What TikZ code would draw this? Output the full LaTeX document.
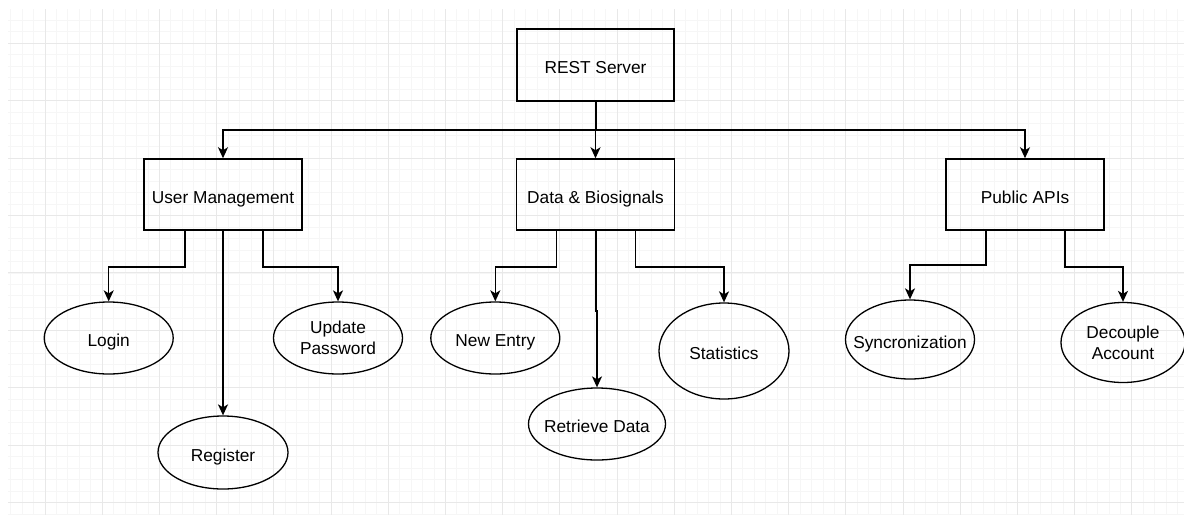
\documentclass[tikz,border=0pt]{standalone}
\usepackage{fontspec}
\setmainfont{Liberation Sans}
\usepackage{tikz}
\usetikzlibrary{shapes.geometric, arrows.meta, positioning}

\definecolor{gridmajor}{HTML}{E8E8E8}
\definecolor{gridminor}{HTML}{F6F6F6}

\begin{document}
\begin{tikzpicture}[
    x=1pt, y=-1pt,
    oneline/.style={text height=17pt, text depth=0pt},
    twoline/.style={text depth=-4pt},
    box/.style={draw, line width=1.5pt, minimum width=158pt, minimum height=71pt, inner sep=0pt, oneline},
    leaf/.style={draw, ellipse, line width=1.3pt, inner sep=-15pt, align=center},
    conn/.style={line width=1.5pt, -{Stealth[length=11pt, width=10pt, inset=3pt]}},
    every node/.style={font=\fontsize{17.3}{21}\selectfont}
]

% Page and grid
\fill[white] (0,0) rectangle (1184,515);
\useasboundingbox (0,0) rectangle (1184,515);
\begin{scope}
\clip (8,9) rectangle (1184,515);
\foreach \i in {0,...,103}
    \draw[gridminor, line width=0.8pt] ({10.68+11.44*\i},9) -- ++(0,506);
\foreach \i in {0,...,44}
    \draw[gridminor, line width=0.8pt] (8,{8.86+11.48*\i}) -- ++(1176,0);
\foreach \i in {0,...,20}
    \draw[gridmajor, line width=1pt] ({45+57.2*\i},9) -- ++(0,506);
\foreach \i in {0,...,8}
    \draw[gridmajor, line width=1pt] (8,{43.3+57.4*\i}) -- ++(1176,0);
\end{scope}

% Server
\node[box, minimum width=157pt, minimum height=72pt] (server) at (595.5,65) {REST Server};

% Modules
\node[box] (usr) at (223,194.5) {User Management};
\node[box] (data) at (595.5,194.5) {Data \& Biosignals};
\node[box] (pub) at (1025,194.5) {Public APIs};

% Functions
\node[leaf, oneline, minimum width=129pt, minimum height=72pt] (login) at (108.7,338) {Login};
\node[leaf, oneline, minimum width=130pt, minimum height=73pt] (register) at (223,452.5) {Register};
\node[leaf, twoline, minimum width=129pt, minimum height=72pt] (update) at (338,338) {Update\\Password};
\node[leaf, oneline, minimum width=129pt, minimum height=72pt] (newentry) at (495.3,338) {New Entry};
\node[leaf, oneline, minimum width=137pt, minimum height=72pt] (retrieve) at (597,424) {Retrieve Data};
\node[leaf, oneline, minimum width=130pt, minimum height=96pt] (stats) at (724,351) {Statistics};
\node[leaf, oneline, minimum width=129pt, minimum height=79pt] (sync) at (910,339.5) {Syncronization};
\node[leaf, twoline, minimum width=124pt, minimum height=80pt] (decouple) at (1123,342.5) {Decouple\\Account};

% Server to modules
\coordinate (bus) at (596,130);
\draw[conn] (server) -- (data);
\draw[conn] (server.south -| bus) -- (bus) -| (usr.north);
\draw[conn] (bus) -| (pub.north);

% User management
\draw[conn] ([xshift=-38pt]usr.south) -- ++(0,36) -| (login.north);
\draw[conn] (usr) -- (register);
\draw[conn] ([xshift=40pt]usr.south) -- ++(0,36) -| (update.north);

% Data & biosignals
\draw[conn] ([xshift=-39pt]data.south) -- ++(0,36) -| (newentry.north);
\draw[conn] ([xshift=0.5pt]data.south) -- ++(0,80) -| (retrieve.north);
\draw[conn] ([xshift=40pt]data.south) -- ++(0,36) -| (stats.north);

% Public APIs
\draw[conn] ([xshift=-39pt]pub.south) -- ++(0,34) -| (sync.north);
\draw[conn] ([xshift=40pt]pub.south) -- ++(0,36) -| (decouple.north);

\end{tikzpicture}
\end{document}
